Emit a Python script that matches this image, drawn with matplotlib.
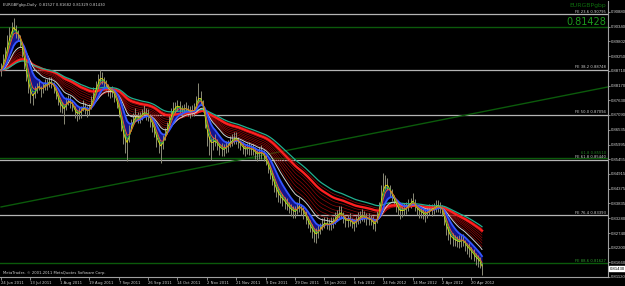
import matplotlib
matplotlib.use("Agg")
import matplotlib.pyplot as plt
import numpy as np
import pandas as pd

# daily closes, EURGBP 24 Jun 2011 .. 27 Apr 2012
closes = [
    0.8874, 0.8902, 0.8930, 0.8968, 0.9003, 0.9025, 0.9040, 0.9018, 0.9003, 0.8985,
    0.8948, 0.8905, 0.8856, 0.8815, 0.8782, 0.8770, 0.8793, 0.8810, 0.8819, 0.8800,
    0.8808, 0.8825, 0.8819, 0.8835, 0.8827, 0.8812, 0.8793, 0.8768, 0.8745, 0.8735,
    0.8727, 0.8750, 0.8764, 0.8758, 0.8745, 0.8722, 0.8709, 0.8715, 0.8720, 0.8740,
    0.8734, 0.8720, 0.8727, 0.8752, 0.8782, 0.8810, 0.8830, 0.8851, 0.8845, 0.8832,
    0.8819, 0.8802, 0.8793, 0.8795, 0.8782, 0.8755, 0.8727, 0.8680, 0.8635, 0.8610,
    0.8598, 0.8640, 0.8672, 0.8695, 0.8709, 0.8702, 0.8698, 0.8712, 0.8720, 0.8716,
    0.8709, 0.8690, 0.8672, 0.8650, 0.8617, 0.8600, 0.8587, 0.8610, 0.8635, 0.8662,
    0.8690, 0.8715, 0.8734, 0.8740, 0.8745, 0.8738, 0.8727, 0.8730, 0.8734, 0.8726,
    0.8720, 0.8724, 0.8727, 0.8750, 0.8782, 0.8770, 0.8745, 0.8690, 0.8635, 0.8612,
    0.8598, 0.8608, 0.8617, 0.8600, 0.8587, 0.8583, 0.8580, 0.8590, 0.8598, 0.8610,
    0.8617, 0.8622, 0.8624, 0.8610, 0.8598, 0.8588, 0.8580, 0.8584, 0.8587, 0.8582,
    0.8580, 0.8570, 0.8561, 0.8568, 0.8572, 0.8560, 0.8543, 0.8520, 0.8499, 0.8475,
    0.8451, 0.8430, 0.8414, 0.8405, 0.8396, 0.8388, 0.8377, 0.8368, 0.8359, 0.8355,
    0.8351, 0.8365, 0.8377, 0.8362, 0.8351, 0.8332, 0.8315, 0.8298, 0.8285, 0.8272,
    0.8267, 0.8280, 0.8292, 0.8305, 0.8315, 0.8310, 0.8304, 0.8310, 0.8315, 0.8328,
    0.8340, 0.8348, 0.8351, 0.8332, 0.8315, 0.8320, 0.8322, 0.8312, 0.8304, 0.8318,
    0.8329, 0.8336, 0.8340, 0.8334, 0.8329, 0.8325, 0.8322, 0.8312, 0.8304, 0.8330,
    0.8359, 0.8410, 0.8451, 0.8458, 0.8451, 0.8430, 0.8414, 0.8395, 0.8377, 0.8362,
    0.8351, 0.8356, 0.8359, 0.8368, 0.8377, 0.8386, 0.8396, 0.8378, 0.8359, 0.8355,
    0.8351, 0.8346, 0.8340, 0.8350, 0.8359, 0.8362, 0.8366, 0.8372, 0.8377, 0.8368,
    0.8359, 0.8325, 0.8292, 0.8272, 0.8256, 0.8252, 0.8248, 0.8244, 0.8241, 0.8245,
    0.8248, 0.8232, 0.8219, 0.8212, 0.8204, 0.8192, 0.8182, 0.8175, 0.8167, 0.8143,
]

# distance of high / low from the close, in pips
up_pips = [
    25, 30, 28, 35, 30, 26, 26, 22, 18, 20,
    22, 20, 25, 18, 22, 20, 24, 18, 22, 16,
    20, 18, 24, 15, 20, 18, 16, 20, 18, 22,
    20, 26, 18, 22, 18, 20, 16, 22, 20, 24,
    18, 20, 22, 26, 30, 24, 28, 25, 22, 18,
    20, 22, 18, 20, 22, 18, 20, 25, 22, 30,
    24, 30, 22, 20, 24, 18, 22, 20, 24, 18,
    20, 22, 18, 20, 24, 18, 22, 26, 24, 20,
    22, 20, 24, 18, 20, 22, 18, 20, 24, 18,
    20, 22, 24, 30, 44, 28, 20, 24, 22, 20,
    24, 18, 22, 20, 18, 22, 20, 24, 18, 22,
    20, 24, 22, 18, 20, 22, 18, 20, 24, 18,
    22, 20, 18, 24, 26, 20, 18, 22, 20, 24,
    22, 18, 24, 20, 22, 18, 26, 20, 22, 18,
    24, 22, 28, 20, 18, 22, 20, 24, 22, 18,
    26, 22, 20, 24, 18, 22, 20, 24, 18, 22,
    20, 24, 22, 18, 20, 22, 24, 18, 22, 20,
    24, 18, 22, 20, 18, 22, 20, 24, 18, 26,
    30, 40, 44, 30, 24, 20, 22, 18, 20, 22,
    18, 22, 24, 20, 22, 18, 25, 22, 20, 18,
    22, 20, 24, 18, 22, 20, 18, 24, 20, 22,
    18, 22, 20, 24, 18, 22, 20, 18, 24, 20,
    22, 18, 20, 24, 18, 22, 20, 18, 20, 22,
]
dn_pips = [
    20, 18, 22, 20, 18, 22, 20, 24, 22, 26,
    24, 28, 22, 26, 30, 24, 20, 22, 18, 24,
    20, 24, 18, 22, 20, 24, 26, 22, 24, 20,
    50, 22, 20, 24, 22, 26, 24, 20, 22, 18,
    22, 20, 18, 22, 20, 18, 22, 20, 24, 22,
    20, 24, 22, 20, 24, 22, 26, 30, 35, 40,
    60, 30, 24, 20, 22, 24, 20, 22, 18, 24,
    22, 24, 26, 22, 28, 30, 55, 26, 20, 22,
    18, 20, 22, 24, 20, 22, 24, 18, 22, 20,
    24, 20, 22, 18, 20, 22, 26, 30, 40, 50,
    55, 30, 24, 22, 26, 24, 22, 20, 24, 18,
    22, 20, 24, 22, 20, 24, 22, 20, 24, 22,
    20, 24, 22, 20, 24, 22, 20, 24, 26, 24,
    26, 22, 24, 20, 22, 24, 20, 22, 24, 26,
    22, 20, 24, 22, 26, 24, 22, 20, 28, 30,
    28, 24, 22, 20, 24, 22, 20, 24, 22, 20,
    22, 20, 24, 22, 20, 24, 22, 20, 24, 22,
    20, 24, 22, 20, 24, 22, 20, 24, 22, 20,
    22, 20, 24, 22, 20, 24, 22, 20, 24, 22,
    24, 22, 20, 24, 22, 20, 24, 22, 20, 24,
    22, 20, 24, 22, 20, 24, 22, 20, 24, 22,
    24, 22, 26, 24, 22, 24, 20, 22, 24, 22,
    20, 24, 22, 26, 24, 22, 24, 26, 22, 24,
]

date_labels = ["24 Jun 2011", "13 Jul 2011", "1 Aug 2011", "19 Aug 2011", "7 Sep 2011",
               "26 Sep 2011", "14 Oct 2011", "2 Nov 2011", "21 Nov 2011", "9 Dec 2011",
               "29 Dec 2011", "18 Jan 2012", "6 Feb 2012", "24 Feb 2012", "14 Mar 2012",
               "2 Apr 2012", "20 Apr 2012"]
date_bars = [0, 14, 28, 42, 56, 70, 84, 98, 112, 126, 140, 154, 168, 182, 196, 210, 224]

price_ticks = [0.90880, 0.90340, 0.89802, 0.89250, 0.88710, 0.88170, 0.87630, 0.87090,
               0.86535, 0.85995, 0.85455, 0.84915, 0.84375, 0.83835, 0.83280, 0.82740,
               0.82200, 0.81660, 0.81120]

fib_names = ["FE 23.6", "FE 38.2", "FE 50.0", "FE 61.8", "FE 76.4"]
fib_levels = [0.90795, 0.88748, 0.87094, 0.85440, 0.83393]
green_levels = [0.90310, 0.85510, 0.81627]

trend_bars = [0, 289]
trend_prices = [0.8370, 0.8812]

last_price = 0.81430
bid_text = "0.81428"

# moving-average groups of the template
fast_periods = [2, 3, 4]
fast_colors = ["#e6e600", "#30c030", "#ff6020"]
blue_period = 9
white_period = 15
ribbon_periods = [18, 22, 26, 30, 35, 40, 45, 50]
thick_red_period = 45
teal_period = 55

BG = "#000000"
GRID_GRAY = "#b4b4b4"
TXT = "#d0d0d0"
SMALL = 2.7
NARROW = ["Liberation Sans Narrow", "Liberation Sans", "DejaVu Sans"]

c = pd.Series(closes)
x = np.arange(len(closes))
hi = c.values + np.array(up_pips) / 10000.0
lo = c.values - np.array(dn_pips) / 10000.0

def ema(n):
    return c.ewm(span=n, adjust=False).mean().values

fig = plt.figure(figsize=(6.25, 2.86), dpi=100, facecolor=BG)
ax = fig.add_axes([0.0, 1 - 277 / 286, 608 / 625, 276 / 286])
ax.set_facecolor(BG)
ax.set_xlim(-0.5, 289)
ax.set_ylim(0.8112, 0.91285)
ytr = ax.get_yaxis_transform()

# levels
for lev, name in zip(fib_levels, fib_names):
    ax.axhline(lev, color=GRID_GRAY, lw=0.9, zorder=1)
    ax.text(0.997, lev + 0.00025, f"{name} {lev:.5f}", transform=ytr,
            ha="right", va="bottom", fontsize=SMALL, color=TXT, zorder=6)
for lev in green_levels:
    ax.axhline(lev, color="#0b5a0b", lw=1.0, zorder=1)
ax.text(0.997, green_levels[2] + 0.00025, "FE 88.6 0.81627", transform=ytr,
        ha="right", va="bottom", fontsize=SMALL, color="#2fa02f", zorder=6)
ax.text(0.997, green_levels[1] + 0.0012, "61.8 0.85510", transform=ytr,
        ha="right", va="bottom", fontsize=SMALL, color="#1f801f", zorder=5)
ax.plot(trend_bars, trend_prices, color="#0b5a0b", lw=1.0, zorder=1)

# long ribbon
for n in ribbon_periods:
    ax.plot(x, ema(n), color="#a00808", lw=0.45, zorder=2)
ax.plot(x, ema(thick_red_period), color="#ff2020", lw=1.7, zorder=4)
ax.plot(x, ema(teal_period), color="#20b090", lw=0.9, zorder=4)

# short group
fast = ema(fast_periods[0])
blue = ema(blue_period)
ax.fill_between(x, fast, blue, color="#14148c", lw=0, zorder=2.5)

# bars
ax.vlines(x, lo, hi, color="#8c8c78", lw=0.7, zorder=3)

ax.plot(x, ema(white_period), color="#d0d0d0", lw=0.7, zorder=4)
ax.plot(x, blue, color="#3355ff", lw=1.3, zorder=5)
for n, col in zip(fast_periods, fast_colors):
    ax.plot(x, ema(n), color=col, lw=0.6, zorder=5)

# axes styling
for s in ["top", "left"]:
    ax.spines[s].set_visible(False)
for s in ["right", "bottom"]:
    ax.spines[s].set_color("#a0a0a0")
    ax.spines[s].set_linewidth(0.8)
ax.yaxis.tick_right()
ax.set_yticks(price_ticks)
ax.set_yticklabels([f"{p:.5f}" for p in price_ticks], family=NARROW, fontsize=3.1)
ax.set_xticks(date_bars)
ax.set_xticklabels(date_labels, ha="left", fontsize=SMALL)
ax.tick_params(axis="both", colors="#a0a0a0", labelcolor=TXT,
               length=2, width=0.6, pad=1)
ax.tick_params(axis="y", pad=0.6, length=1.5)

# texts
fig.text(3 / 625, 1 - 5 / 286, "EURGBPgbp,Daily  0.81527 0.81682 0.81329 0.81430",
         fontsize=SMALL, color=TXT, va="center", ha="left")
fig.text(606 / 625, 1 - 6 / 286, "EURGBPgbp", fontsize=4.4, color="#0e6e0e", va="center", ha="right")
fig.text(606 / 625, 1 - 22 / 286, bid_text, fontsize=7, color="#1c9a1c", va="center", ha="right")
fig.text(3 / 625, 1 - 273 / 286, "MetaTrader, \u00a9 2001-2011 MetaQuotes Software Corp.",
         fontsize=SMALL, color=TXT, va="center", ha="left")
ax.text(1.003, last_price, f"{last_price:.5f}", transform=ytr, family=NARROW,
        ha="left", va="center", fontsize=3.1, color="#000000", clip_on=False, zorder=8,
        bbox=dict(boxstyle="square,pad=0.15", fc="#ffffff", ec="#ffffff"))

fig.savefig("out.png", dpi=100, facecolor=BG)
